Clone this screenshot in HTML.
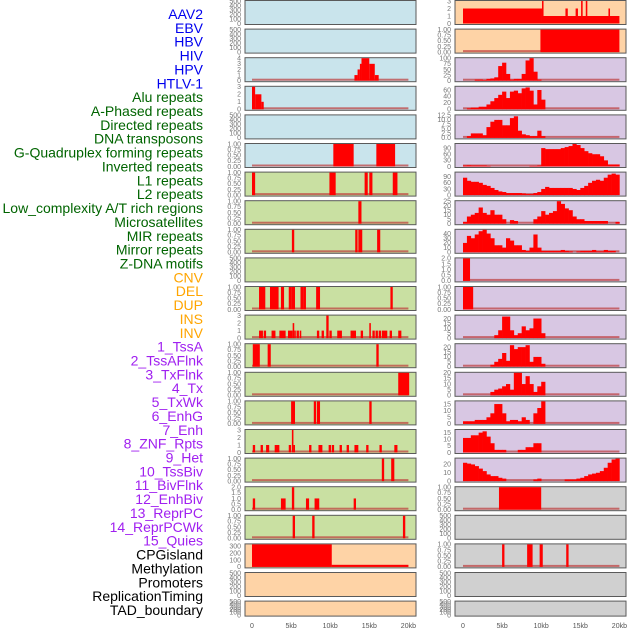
<!DOCTYPE html>
<html><head><meta charset="utf-8">
<style>
html,body{margin:0;padding:0;background:#fff;}
svg{display:block;font-family:"Liberation Sans",sans-serif;}
</style></head>
<body>
<svg id="chart" width="630" height="630" viewBox="0 0 630 630">
<g id="labels"></g>
<g id="panels"></g>
<g id="xaxis"></g>
</svg>
<script>
// ---- Track labels ----
const trackNames = ["AAV2","EBV","HBV","HIV","HPV","HTLV-1","Alu repeats","A-Phased repeats","Directed repeats","DNA transposons","G-Quadruplex forming repeats","Inverted repeats","L1 repeats","L2 repeats","Low_complexity A/T rich regions","Microsatellites","MIR repeats","Mirror repeats","Z-DNA motifs","CNV","DEL","DUP","INS","INV","1_TssA","2_TssAFlnk","3_TxFlnk","4_Tx","5_TxWk","6_EnhG","7_Enh","8_ZNF_Rpts","9_Het","10_TssBiv","11_BivFlnk","12_EnhBiv","13_ReprPC","14_ReprPCWk","15_Quies","CPGisland","Methylation","Promoters","ReplicationTiming","TAD_boundary"];
const trackGroups = [0,0,0,0,0,0,1,1,1,1,1,1,1,1,1,1,1,1,1,2,2,2,2,2,3,3,3,3,3,3,3,3,3,3,3,3,3,3,3,4,4,4,4,4];
const groupColors = ["#0000ee","#006400","#ffa500","#a020f0","#000000"];
const xTickValues = [0,5,10,15,20];
const xTickLabels = ["0","5kb","10kb","15kb","20kb"];

// ---- Middle column data (segments: [startKb, endKb, value]) ----
const hivSegs = [[13.1,13.5,1],[13.5,13.8,2],[13.8,14.0,3],[14.0,15.0,4],[15.0,15.7,3],[15.7,16.2,1]];
const htlvSegs = [[0,0.4,3],[0.4,1.2,2],[1.2,1.5,1]];
const gquadMidSegs = [[10.4,13.0,1],[15.9,18.3,1]];
const l1MidSegs = [[0,0.4,1],[9.9,10.7,1],[14.4,14.8,1],[15.0,15.4,1],[18.0,18.6,1]];
const lowCompMidSegs = [[13.6,14.0,1]];
const mirMidSegs = [[5.1,5.4,1],[13.2,13.5,1],[13.6,14.1,1],[16.0,16.4,1]];
const cnvMidSegs = [[0.9,1.7,1],[2.3,3.4,1],[3.7,4.1,1],[4.7,5.1,1],[5.1,5.5,1],[6.2,6.6,1],[6.6,6.9,1],[8.2,8.7,1],[17.7,18.0,1]];
const delMidSegs = [[0.9,1.4,1],[1.5,1.8,1],[2.5,3.0,1],[3.5,4.3,1],[4.6,5.2,1],[5.2,5.4,2],[5.4,5.6,1],[5.7,6.0,1],[6.1,6.3,1],[8.3,8.6,1],[8.9,9.2,1],[9.5,9.8,3],[9.9,10.2,1],[10.9,11.5,1],[12.6,13.3,1],[13.9,14.2,1],[15.0,15.2,2],[15.4,15.7,1],[15.8,16.1,1],[16.2,16.5,1],[16.6,17.3,1],[17.6,17.9,1],[18.7,19.1,1]];
const dupMidSegs = [[0.1,1.0,1],[2.0,2.4,1],[15.9,16.2,1]];
const insMidSegs = [[18.7,20.1,1]];
const invMidSegs = [[5.0,5.5,1],[7.9,8.2,1],[8.3,8.7,1],[15.0,15.3,1]];
const tssaMidSegs = [[0.1,0.4,1],[1.1,1.4,1],[1.8,2.2,1],[2.9,3.5,1],[4.7,5.0,1],[5.1,5.3,3],[5.3,5.5,1],[7.3,7.6,1],[8.5,9.0,1],[9.8,10.1,1],[10.2,10.5,1],[11.2,11.5,1],[12.1,12.4,1],[13.1,13.6,1],[14.6,14.9,1],[16.3,16.6,1],[18.2,18.6,1]];
const tssflnkMidSegs = [[16.6,16.9,1],[17.8,18.2,1]];
const txflnkMidSegs = [[0.1,0.4,1],[3.7,4.3,1],[5.1,5.4,2],[6.9,7.3,1],[8.0,8.6,1],[13.0,13.3,1]];
const txMidSegs = [[5.2,5.5,1],[7.7,8.0,1],[19.3,19.6,1]];
const txwkMidSegs = [[0,10.2,330],[10.2,20,30]];
const emptySegs = [];

// ---- Right column data ----
const aav2Segs = [[0,10.1,2],[10.1,20,1],[10.1,10.3,3],[13.1,13.4,2],[14.4,14.7,2],[15.1,15.3,3],[15.7,15.9,3],[18.6,18.8,2]];
const ebvSegs = [[9.9,20,1]];
const hbvBins = [0,0,0,5,5,3,8,10,15,65,80,30,5,8,8,30,90,100,40,5,0,0,0,0,0,0,0,0,0,0,0,0,0,0,0,0,0,0,0,0];
const hpvBins = [0,3,5,5,8,8,15,25,35,45,55,35,55,58,50,65,68,58,15,60,30,0,0,0,0,0,0,0,0,0,0,0,0,0,0,0,0,0,0,0];
const aluBins = [0,1,2.5,2.5,2.5,1.5,6,9,10,10,7,7,11,12,4,2,1.5,1,1,4,1,0,0,0,0,0,0,0,0,0,0,0,0,0,0,0,0,0,0,0];
const aphasedBins = [5,6,5,5,5,5,3,0,0,0,0,0,0,0,0,0,0,3,3,5,90,85,85,85,85,90,95,100,110,105,90,75,65,60,60,50,30,10,10,10];
const directedBins = [85,70,65,65,60,50,45,35,25,18,15,10,10,10,10,8,5,5,10,15,30,40,35,35,35,35,35,35,30,25,35,45,60,70,75,70,85,100,105,100];
const dnaBins = [2,8,10,12,18,12,10,15,10,10,5,0,4,3,0,0,0,0,5,8,14,10,12,14,25,22,17,15,8,5,5,3,3,3,3,3,3,0,0,2];
const gquadBins = [20,35,30,38,45,48,40,30,15,15,10,30,25,15,15,5,3,10,38,10,3,3,3,3,3,5,3,2,0,2,3,3,3,5,2,2,5,3,3,0];
const invertedSegs = [[0,0.9,2]];
const l1Segs = [[0,1.3,1]];
const l2Bins = [0,0,0,0,0,0,0,0,3,8,22,22,8,3,5,12,8,10,20,20,5,0,0,0,0,0,0,0,0,0,0,0,0,0,0,0,0,0,0,0];
const lowCompBins = [0,0,0,0,0,0,0,2,5,8,14,6,22,18,20,20,22,5,10,10,3,0,0,0,0,0,0,0,0,0,0,0,0,0,0,0,0,0,0,0];
const microBins = [0,0,0,0,0,0,0,3,5,6,8,10,5,20,20,10,17,10,3,8,12,0,0,0,0,0,0,0,0,0,0,0,0,0,0,0,0,0,0,0];
const mirBins = [2,2,2,3,3,3,5,8,15,15,8,2,3,3,2,5,3,0,8,12,17,0,0,0,0,0,0,0,0,0,0,0,0,0,0,0,0,0,0,0];
const mirrorBins = [11,11,13,13,15,16,12,7,2,2,2,0,0,0,2,2,4,4,7,7,0,0,0,0,0,0,0,0,0,0,0,0,0,0,0,0,0,0,0,0];
const zdnaBins = [22,21,20,18,15,12,8,6,6,4,3,0,0,0,0,0,0,0,2,3,0,0,0,0,0,0,2,2,2,3,4,6,8,9,10,12,16,22,26,27];
const cnvRightSegs = [[4.6,10.0,1]];
const dupRightSegs = [[5.0,5.3,1],[8.2,8.9,1],[9.8,10.2,1],[13.2,13.5,1]];

// ---- Tick label sets ----
const ticksEmpty = [0,100,200,300,400,500];
const ticksFrac = [0,0.25,0.5,0.75,1];
const ticksFracLbl = ["0.00","0.25","0.50","0.75","1.00"];

const BLUE="#c9e4ec", GREEN="#c9e0a2", PEACH="#fed3a6", LAV="#d8c7e3", GREY="#d0d0d0";
function fracP(segs,bg){return {bg:bg,ymax:1,ticks:ticksFrac,tl:ticksFracLbl,segs:segs};}
function emptyP(bg){return {bg:bg,ymax:500,ticks:ticksEmpty,tl:null,segs:emptySegs,nobase:true};}
const midPanels = [
 emptyP(BLUE), emptyP(BLUE),
 {bg:BLUE,ymax:4,ticks:[0,1,2,3,4],segs:hivSegs},
 {bg:BLUE,ymax:3,ticks:[0,1,2,3],segs:htlvSegs},
 emptyP(BLUE),
 fracP(gquadMidSegs,BLUE),
 fracP(l1MidSegs,GREEN), fracP(lowCompMidSegs,GREEN), fracP(mirMidSegs,GREEN),
 emptyP(GREEN),
 fracP(cnvMidSegs,GREEN),
 {bg:GREEN,ymax:3,ticks:[0,1,2,3],segs:delMidSegs},
 fracP(dupMidSegs,GREEN), fracP(insMidSegs,GREEN), fracP(invMidSegs,GREEN),
 {bg:GREEN,ymax:3,ticks:[0,1,2,3],segs:tssaMidSegs},
 fracP(tssflnkMidSegs,GREEN),
 {bg:GREEN,ymax:2,ticks:[0,0.5,1,1.5,2],tl:["0.0","0.5","1.0","1.5","2.0"],segs:txflnkMidSegs},
 fracP(txMidSegs,GREEN),
 {bg:PEACH,ymax:330,ticks:[0,100,200,300],segs:txwkMidSegs},
 emptyP(PEACH), emptyP(PEACH)
];
const rightPanels = [
 {bg:PEACH,ymax:3,ticks:[0,1,2,3],segs:aav2Segs},
 fracP(ebvSegs,PEACH),
 {bg:LAV,ymax:100,ticks:[0,25,50,75,100],bins:hbvBins},
 {bg:LAV,ymax:70,ticks:[0,20,40,60],bins:hpvBins},
 {bg:LAV,ymax:12.5,ticks:[0,2.5,5,7.5,10,12.5],tl:["0.0","2.5","5.0","7.5","10.0","12.5"],bins:aluBins},
 {bg:LAV,ymax:110,ticks:[0,30,60,90],bins:aphasedBins},
 {bg:LAV,ymax:110,ticks:[0,30,60,90],bins:directedBins},
 {bg:LAV,ymax:25,ticks:[0,5,10,15,20,25],bins:dnaBins},
 {bg:LAV,ymax:48,ticks:[0,10,20,30,40],bins:gquadBins},
 {bg:LAV,ymax:2,ticks:[0,0.5,1,1.5,2],tl:["0.0","0.5","1.0","1.5","2.0"],segs:invertedSegs},
 fracP(l1Segs,LAV),
 {bg:LAV,ymax:23,ticks:[0,5,10,15,20],bins:l2Bins},
 {bg:LAV,ymax:23,ticks:[0,5,10,15,20],bins:lowCompBins},
 {bg:LAV,ymax:20,ticks:[0,5,10,15,20],bins:microBins},
 {bg:LAV,ymax:17,ticks:[0,5,10,15],bins:mirBins},
 {bg:LAV,ymax:17,ticks:[0,5,10,15],bins:mirrorBins},
 {bg:LAV,ymax:27,ticks:[0,10,20],bins:zdnaBins},
 fracP(cnvRightSegs,GREY),
 emptyP(GREY),
 fracP(dupRightSegs,GREY),
 emptyP(GREY), emptyP(GREY)
];

const NS="http://www.w3.org/2000/svg";
function mk(tag,attrs,parent){const e=document.createElementNS(NS,tag);for(const k in attrs)e.setAttribute(k,attrs[k]);parent.appendChild(e);return e;}
const colLeft=[245,455], colX0=[252,463], KB=7.82;
function xScale(col,kb){return colX0[col]+kb*KB;}
function rowTop(r){return r*28.6;}
function rowH(r){return r===21?16:25;}

// labels
const lg=document.getElementById('labels');
trackNames.forEach((n,i)=>{
  const t=mk('text',{x:203,y:14+i*13.86+5,'text-anchor':'end','font-size':'14',fill:groupColors[trackGroups[i]]},lg);
  t.textContent=n;
  
  
});

const pg=document.getElementById('panels');
function drawPanel(col,r,p){
  const g=mk('g',{},pg);
  
  
  const top=rowTop(r),h=rowH(r),L=colLeft[col];
  const bottom=top+h-1.5;
  const yS=v=>bottom-(v/p.ymax)*(h-2.5);
  mk('rect',{x:L,y:top+0.5,width:171,height:h-1,fill:p.bg,stroke:'#5a5a5a','stroke-width':1},g);
  const marks=mk('g',{},g);
  
  
  if(!p.nobase){
    mk('rect',{x:xScale(col,0),y:bottom-2,width:KB*20,height:2,fill:'rgba(190,60,60,0.7)'},marks);
  }
  (p.segs||[]).forEach(s=>{
    const y=yS(s[2]);
    const b=mk('rect',{x:xScale(col,s[0]),y:y,width:Math.max(1,(s[1]-s[0])*KB),height:bottom-y,fill:'#ff0000'},marks);
    
    
  });
  if(p.bins){
    const w=20/p.bins.length;
    p.bins.forEach((v,i)=>{
      if(v<=0)return;
      const y=yS(v);
      const b=mk('rect',{x:xScale(col,i*w),y:y,width:w*KB+0.3,height:bottom-y,fill:'#ff0000'},marks);
      
      
    });
  }
  const tg=mk('g',{},g);
  
  
  p.ticks.forEach((v,i)=>{
    const t=mk('text',{x:L-4,y:yS(v)+2.3,'text-anchor':'end','font-size':'7',fill:'#777'},tg);
    t.textContent=p.tl?p.tl[i]:String(v);
  });
}
midPanels.forEach((p,r)=>drawPanel(0,r,p));
rightPanels.forEach((p,r)=>drawPanel(1,r,p));

const xg=document.getElementById('xaxis');
[0,1].forEach(col=>{
  xTickValues.forEach((v,i)=>{
    const t=mk('text',{x:xScale(col,v),y:628,'text-anchor':'middle','font-size':'7',fill:'#555'},xg);
    t.textContent=xTickLabels[i];
    
    
  });
});
</script>
</body></html>
